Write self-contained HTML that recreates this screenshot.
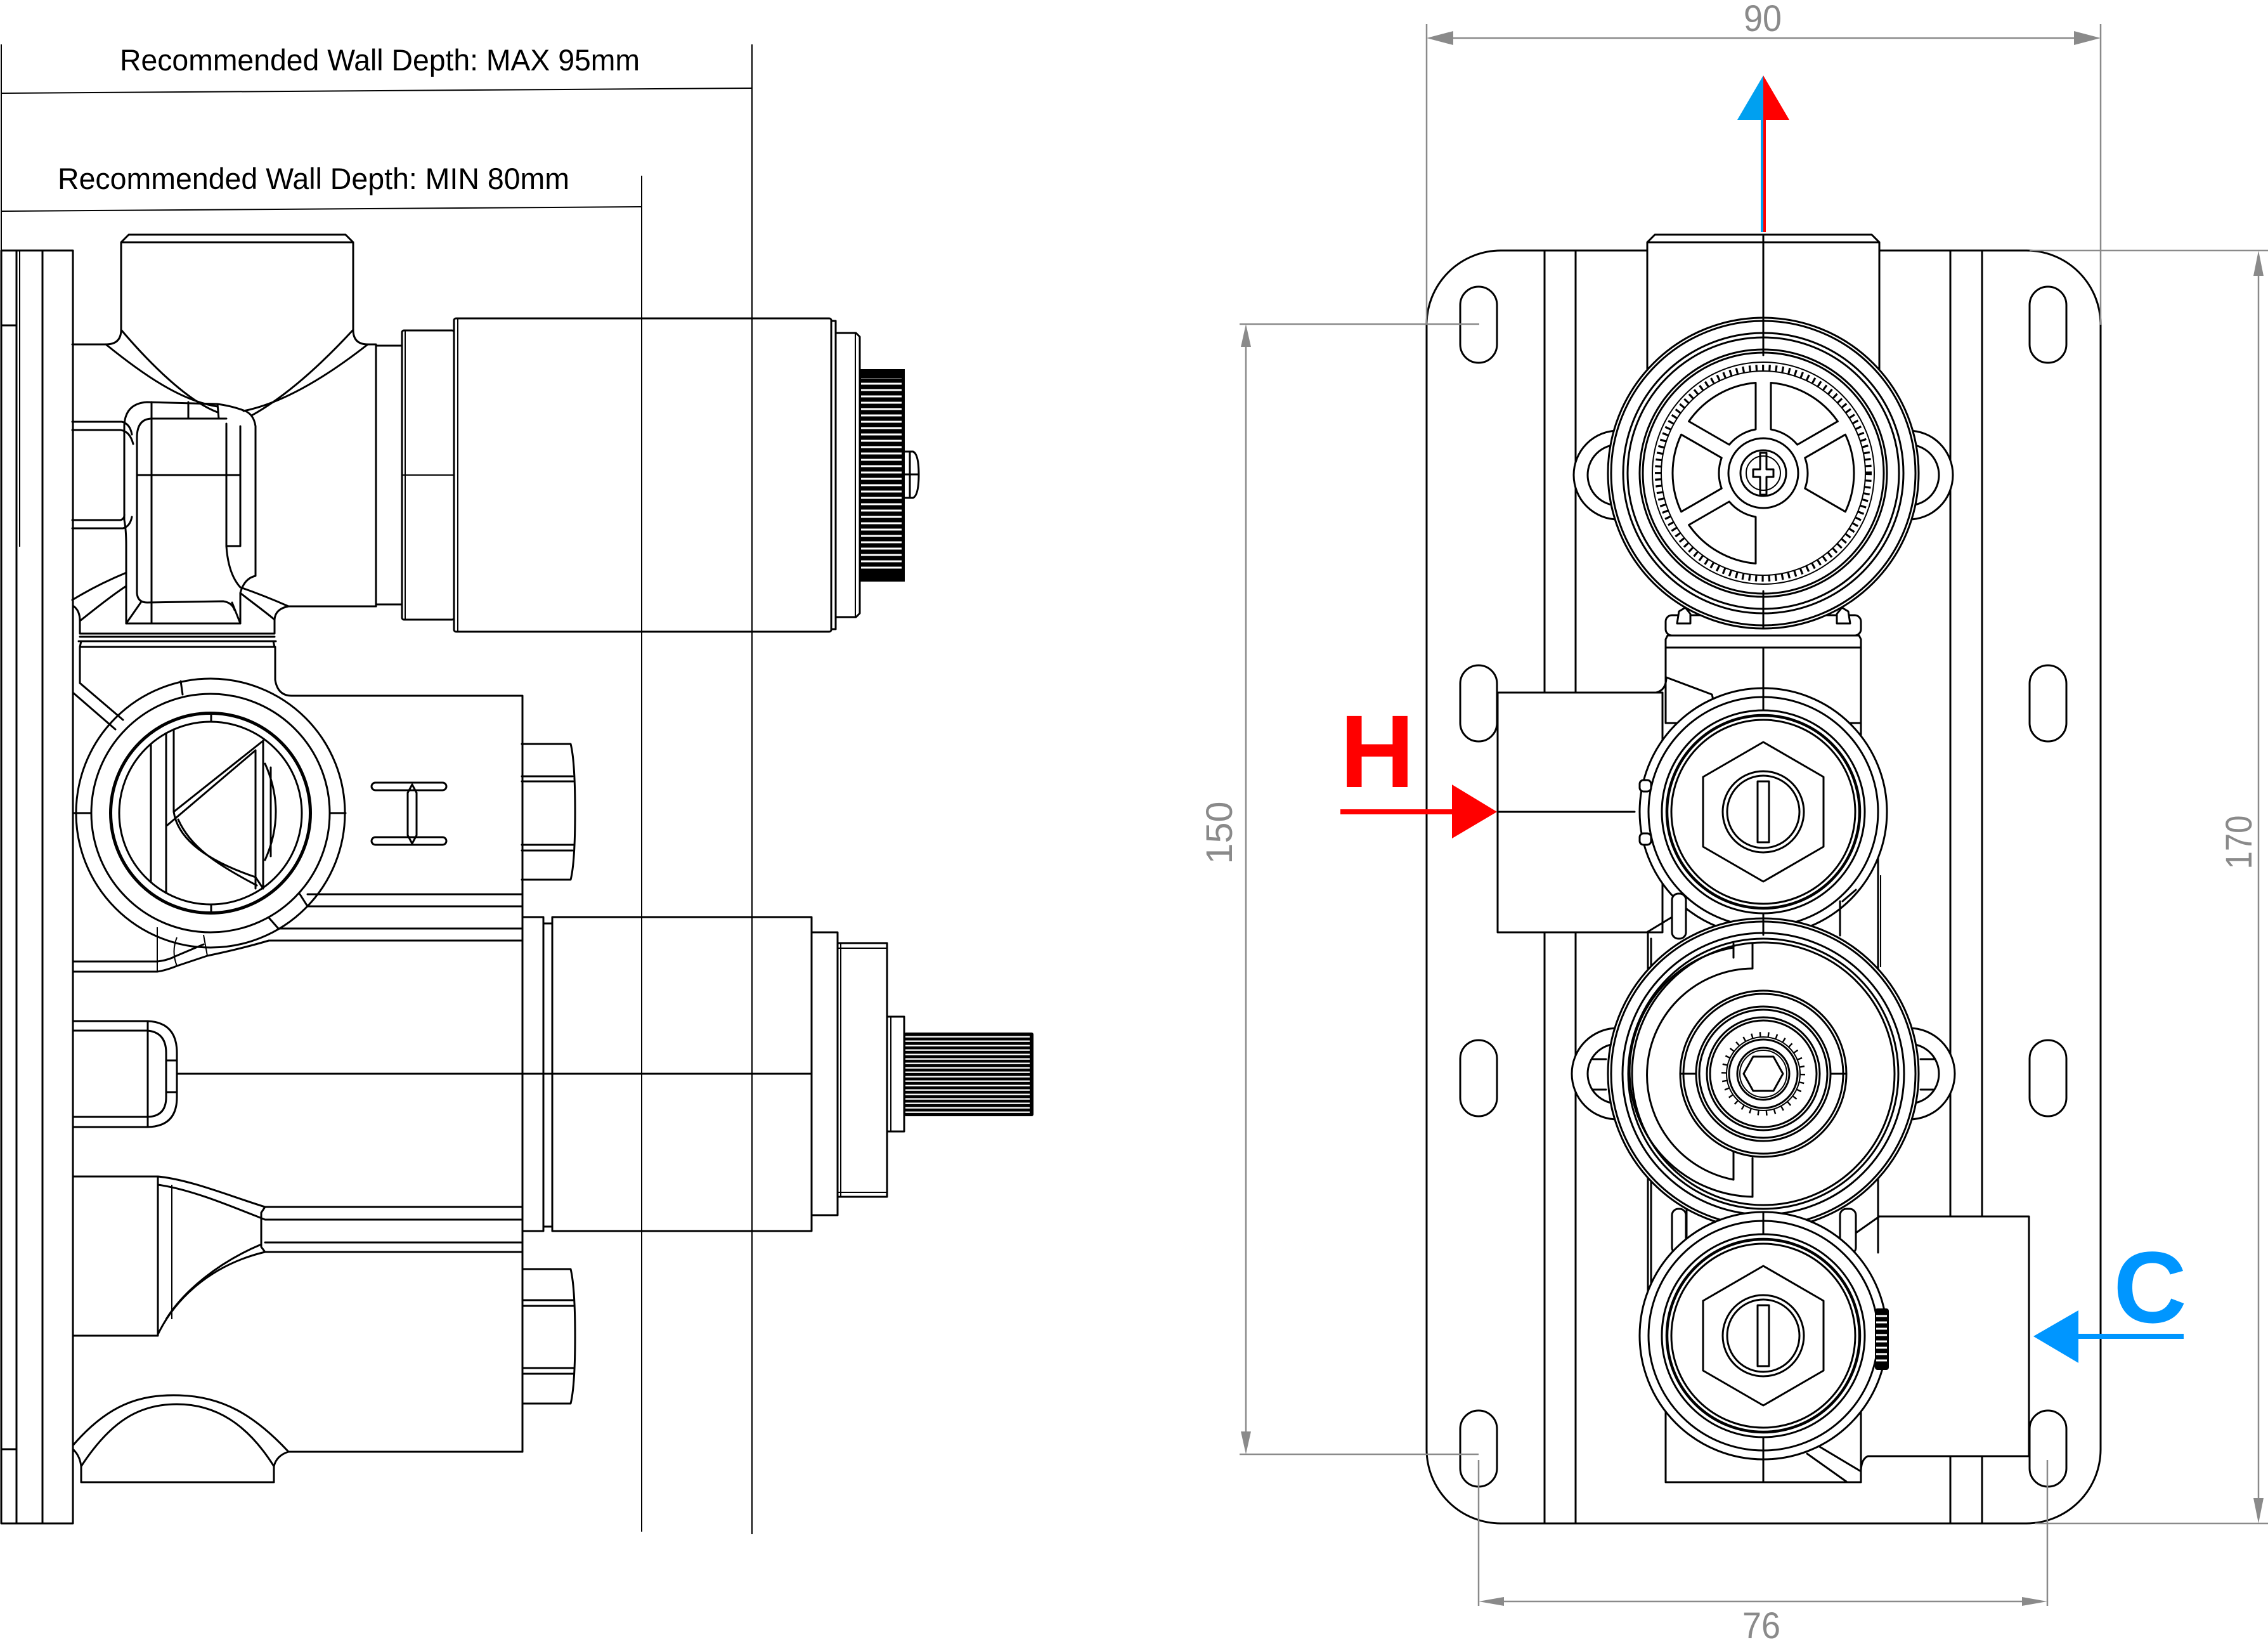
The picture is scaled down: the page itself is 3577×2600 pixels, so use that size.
<!DOCTYPE html>
<html><head><meta charset="utf-8">
<style>
html,body{margin:0;padding:0;background:#fff}
svg{display:block}
.o{fill:none;stroke:#000;stroke-width:3;stroke-linejoin:round;stroke-linecap:round}
.t{fill:none;stroke:#000;stroke-width:2}
.w{fill:#fff;stroke:#000;stroke-width:3;stroke-linejoin:round}
.g{fill:none;stroke:#8a8a8a;stroke-width:2.5}
.ga{fill:#8a8a8a;stroke:none}
.dim{font-family:"Liberation Sans",sans-serif;fill:#8a8a8a;font-size:58px}
.lbl{font-family:"Liberation Sans",sans-serif;fill:#000;font-size:47px}
.big{font-family:"Liberation Sans",sans-serif;font-weight:bold}
</style></head>
<body>
<svg width="3577" height="2600" viewBox="0 0 3577 2600" xmlns="http://www.w3.org/2000/svg">
<defs>
<pattern id="knurl" x="0" y="0" width="20" height="10" patternUnits="userSpaceOnUse"><rect width="20" height="10" fill="#000"/><rect y="3.5" width="20" height="3" fill="#fff"/></pattern>
<pattern id="spl" x="0" y="0" width="20" height="7" patternUnits="userSpaceOnUse"><rect width="20" height="7" fill="#000"/><rect y="2.5" width="20" height="2.3" fill="#fff"/></pattern>
</defs>
<rect width="3577" height="2600" fill="#fff"/>

<!-- ================= LEFT VIEW ================= -->
<g class="t">
<line x1="2" y1="147" x2="1186" y2="139"/>
<line x1="2" y1="333" x2="1012" y2="326"/>
<line x1="1186" y1="70" x2="1186" y2="2419"/>
<line x1="1012" y1="277" x2="1012" y2="2415"/>
<line x1="2" y1="70" x2="2" y2="395"/>
</g>
<text class="lbl" x="189" y="111" textLength="820" lengthAdjust="spacingAndGlyphs">Recommended Wall Depth: MAX 95mm</text>
<text class="lbl" x="91" y="298" textLength="807" lengthAdjust="spacingAndGlyphs">Recommended Wall Depth: MIN 80mm</text>

<!-- plate -->
<rect class="o" x="2" y="395" width="113" height="2007"/>
<line class="o" x1="26" y1="395" x2="26" y2="2402"/>
<line class="o" x1="67" y1="395" x2="67" y2="2402"/>
<line class="t" x1="31" y1="395" x2="31" y2="862"/>
<line class="o" x1="2" y1="513" x2="26" y2="513"/>
<line class="o" x1="2" y1="2285" x2="26" y2="2285"/>

<!-- top valve body -->
<path class="o" d="M191,520 L191,382 L203,370 L545,370 L557,382 L557,520 M191,382 L557,382"/>
<path class="o" d="M114,543 L167,543 Q191,543 191,520 M557,520 Q557,543 580,543 L593,543 L593,956"/>
<path class="o" d="M593,545 L634,545 M593,953 L634,953"/>
<rect class="o" x="634" y="521" width="82" height="456" rx="3"/>
<line class="t" x1="639" y1="521" x2="639" y2="977"/>
<line class="t" x1="634" y1="749" x2="716" y2="749"/>
<rect class="o" x="716" y="502" width="595" height="494" rx="3"/>
<line class="t" x1="722" y1="502" x2="722" y2="996"/>
<rect class="o" x="1311" y="506" width="7" height="486"/>
<path class="o" d="M1318,525 L1350,525 L1356,531 L1356,967 L1350,973 L1318,973 Z"/>
<line class="t" x1="1349" y1="525" x2="1349" y2="973"/>
<rect x="1356" y="582" width="71" height="335" fill="#000"/>
<rect x="1358" y="596" width="64" height="307" fill="url(#knurl)"/>
<path class="o" d="M1427,712 L1440,712 Q1449,716 1449,748 Q1449,781 1440,785 L1427,785 M1435,712 L1435,785 M1427,748 L1449,748"/>

<path class="o" d="M167,543 C225,590 285,632 343,641"/>
<path class="o" d="M191,520 C225,560 290,630 343,650"/>
<path class="o" d="M580,543 C520,590 450,635 384,648"/>
<path class="o" d="M557,520 C520,560 460,620 397,655"/>
<path class="o" d="M343,637 L232,634 Q198,636 196,670 L196,820 Q199,835 199,860 L199,983 L379,983 L379,935 Q385,912 403,908 L403,672 Q400,652 384,647 Q365,640 343,637"/>
<path class="o" d="M357,668 L357,861 Q360,905 379,926 M216,690 Q216,660 240,660 L357,660 M216,690 L216,935 Q217,950 232,950 L352,948 Q366,950 370,962"/>
<path class="o" d="M199,983 L222,950 M379,983 L366,950 M239,634 L239,983 M216,749 L379,749 M357,861 L379,861 M379,672 L379,861 M297,634 L297,659 M343,637 L345,660"/>
<path class="o" d="M114,665 L192,665 Q205,668 208,685 M114,678 L190,678 Q205,680 210,700"/>
<path class="o" d="M114,820 L190,820 Q197,818 196,810 M114,833 L194,833 Q205,830 208,815"/>
<path class="o" d="M114,946 C140,930 170,915 199,903"/>
<path class="o" d="M126,979 C150,960 175,940 199,924"/>
<path class="o" d="M379,926 C405,935 430,945 455,956 L593,956"/>
<path class="o" d="M379,935 C398,950 415,962 433,977"/>
<path class="o" d="M455,956 Q434,960 433,977 M115,955 Q126,962 126,979"/>
<path class="o" d="M126,979 L126,999 L433,999 L433,977"/>
<path class="o" d="M126,1004 L433,1004 M124,1011 L435,1011 M128,1011 L126,1020 M431,1011 L433,1020 M126,1020 L433,1020"/>

<!-- H port (lower body) -->
<path class="o" d="M126,1020 L126,1077 L194,1135 M115,1092 L182,1150"/>
<path class="o" d="M434,1020 L434,1072 Q438,1097 460,1097 L823,1097"/>
<line class="o" x1="824" y1="1097" x2="824" y2="2289"/>
<path class="o" d="M485,1410 L823,1410 M485,1429 L823,1429 M439,1464 L823,1464 M439,1483 L823,1483 M473,1410 L485,1429 M424,1447 L439,1464"/>
<circle class="o" cx="332" cy="1282" r="212"/>
<circle class="o" cx="332" cy="1282" r="188"/>
<circle cx="332" cy="1282" r="157.5" fill="none" stroke="#000" stroke-width="5"/>
<circle class="o" cx="332" cy="1282" r="144"/>
<path class="o" d="M115,1282 L144,1282 M521,1282 L545,1282 M285,1074 L288,1095 M333,1125 L333,1138 M333,1426 L333,1439"/>
<path class="o" d="M238,1173 L238,1391 M262,1156 L262,1408 M274,1150 L274,1280 M274,1280 L415,1168 M264,1301 L403,1183"/>
<path class="o" d="M274,1280 C280,1320 320,1355 403,1383 L415,1401 M281,1292 C300,1335 340,1362 405,1396"/>
<path class="o" d="M403,1183 L403,1401 M415,1168 L415,1401 M418,1204 Q452,1280 418,1356 M427,1210 L427,1350"/>
<path class="o" d="M115,1516 L248,1516 Q265,1514 276,1508 L321,1489"/>
<path class="o" d="M115,1532 L248,1532 Q262,1530 279,1523 L327,1507 Q380,1496 424,1483 L439,1483"/>
<path class="t" d="M248,1462 L248,1532 M279,1478 Q270,1500 279,1523 M321,1474 L327,1507"/>
<path class="o" d="M823,1173 L900,1173 Q907,1200 907,1280 Q907,1360 900,1387 L823,1387 M823,1224 L903,1224 M823,1232 L904,1232 M823,1332 L904,1332 M823,1341 L903,1341"/>
<rect class="o" x="586" y="1234" width="118" height="12" rx="6"/>
<rect class="o" x="586" y="1320" width="118" height="12" rx="6"/>
<path class="o" d="M650,1237 L657,1250 L657,1317 L650,1330 L643,1317 L643,1250 Z"/>

<!-- middle -->
<rect class="o" x="824" y="1446" width="33" height="495"/>
<rect class="o" x="857" y="1456" width="14" height="478"/>
<rect class="o" x="871" y="1446" width="409" height="495"/>
<rect class="o" x="1280" y="1470" width="41" height="446"/>
<rect class="o" x="1321" y="1487" width="78" height="400"/>
<path class="t" d="M1326,1487 L1326,1887 M1321,1495 L1399,1495 M1321,1880 L1399,1880"/>
<rect class="o" x="1399" y="1603" width="27" height="181"/>
<line class="t" x1="1405" y1="1603" x2="1405" y2="1784"/>
<rect x="1426" y="1628" width="204" height="132" rx="3" fill="#000"/>
<rect x="1428" y="1632" width="196" height="124" fill="url(#spl)"/>
<line class="o" x1="279" y1="1693" x2="1280" y2="1693"/>
<path class="o" d="M115,1610 L233,1610 Q279,1612 279,1660 L279,1730 Q279,1776 233,1777 L115,1777"/>
<path class="o" d="M115,1625 L233,1625 Q262,1628 262,1660 L262,1730 Q262,1760 233,1761 L115,1761 M233,1610 L233,1777 M262,1672 L279,1672 M262,1722 L279,1722"/>

<!-- lower -->
<path class="o" d="M115,1855 L249,1855 C300,1860 360,1885 418,1903 L824,1903"/>
<path class="o" d="M249,1868 C300,1875 360,1900 418,1923 L824,1923"/>
<path class="o" d="M418,1959 L824,1959 M418,1974 L824,1974 M418,1903 L412,1912 L412,1966 L418,1974"/>
<path class="o" d="M249,2104 C275,2050 330,1995 418,1974"/>
<path class="o" d="M262,2080 C290,2035 345,1990 412,1962"/>
<path class="o" d="M249,1855 L249,2106 M115,2106 L249,2106"/>
<line class="t" x1="271" y1="1868" x2="271" y2="2080"/>
<path class="o" d="M455,2289 L824,2289"/>
<path class="o" d="M824,2001 L900,2001 Q907,2030 907,2107 Q907,2185 900,2213 L824,2213 M824,2050 L904,2050 M824,2059 L904,2059 M824,2157 L904,2157 M824,2166 L904,2166"/>
<path class="o" d="M115,2279 C170,2215 220,2198 283,2200 C350,2202 400,2230 455,2289"/>
<path class="o" d="M128,2312 C175,2240 220,2214 279,2214 C340,2214 390,2245 432,2312"/>
<path class="o" d="M115,2285 Q126,2295 128,2312 M455,2289 Q436,2295 432,2312 M128,2312 L128,2337 L432,2337 L432,2312"/>

<!-- ================= RIGHT VIEW ================= -->
<!-- plate -->
<path class="o" d="M2367,395 L3196,395 A117,117 0 0 1 3313,512 L3313,2285 A117,117 0 0 1 3196,2402 L2367,2402 A117,117 0 0 1 2250,2285 L2250,512 A117,117 0 0 1 2367,395 Z"/>
<path class="o" d="M2436,395 L2436,2402 M2485,395 L2485,2402 M3076,395 L3076,2402 M3126,395 L3126,2402"/>
<g class="o">
<rect x="2303" y="452" width="58" height="120" rx="29"/>
<rect x="3201" y="452" width="58" height="120" rx="29"/>
<rect x="2303" y="1049" width="58" height="120" rx="29"/>
<rect x="3201" y="1049" width="58" height="120" rx="29"/>
<rect x="2303" y="1640" width="58" height="120" rx="29"/>
<rect x="3201" y="1640" width="58" height="120" rx="29"/>
<rect x="2303" y="2224" width="58" height="120" rx="29"/>
<rect x="3201" y="2224" width="58" height="120" rx="29"/>
</g>

<!-- dimensions -->
<g class="g">
<path d="M2250,38 L2250,512 M3313,38 L3313,512 M2285,60 L3278,60"/>
<path d="M1955,511 L2333,511 M1955,2293 L2332,2293 M1965,540 L1965,2264"/>
<path d="M3201,395 L3577,395 M3210,2402 L3577,2402 M3562,430 L3562,2367"/>
<path d="M2332,2302 L2332,2532 M3229,2302 L3229,2532 M2365,2525 L3196,2525"/>
</g>
<g class="ga">
<polygon points="2250,60 2292,49 2292,71"/>
<polygon points="3313,60 3271,49 3271,71"/>
<polygon points="1965,511 1957,547 1973,547"/>
<polygon points="1965,2293 1957,2257 1973,2257"/>
<polygon points="3562,395 3554,435 3570,435"/>
<polygon points="3562,2402 3554,2362 3570,2362"/>
<polygon points="2332,2525 2372,2518 2372,2532"/>
<polygon points="3229,2525 3189,2518 3189,2532"/>
</g>
<text class="dim" x="2780" y="49" text-anchor="middle" textLength="60" lengthAdjust="spacingAndGlyphs">90</text>
<text class="dim" x="2778" y="2583" text-anchor="middle" textLength="60" lengthAdjust="spacingAndGlyphs">76</text>
<text class="dim" transform="translate(1943,1313) rotate(-90)" text-anchor="middle" textLength="99" lengthAdjust="spacingAndGlyphs">150</text>
<text class="dim" transform="translate(3551,1328) rotate(-90)" text-anchor="middle" textLength="85" lengthAdjust="spacingAndGlyphs">170</text>

<!-- top pipe + centreline -->
<path class="w" d="M2598,640 L2598,382 L2610,370 L2952,370 L2964,382 L2964,640 Z"/>
<line class="o" x1="2598" y1="382" x2="2964" y2="382"/>
<line class="o" x1="2781" y1="370" x2="2781" y2="2337"/>

<!-- collar below top valve -->
<path class="w" d="M2627,1021 L2627,1140 L2935,1140 L2935,1021 Z"/>
<line class="o" x1="2781" y1="1021" x2="2781" y2="1140"/>
<path class="w" d="M2630,1002 L2627,1008 L2627,1021 L2935,1021 L2935,1008 L2932,1002 Z"/>
<rect class="w" x="2627" y="970" width="308" height="32" rx="10"/>
<path class="w" d="M2645,983 L2648,964 L2658,958 L2666,968 L2666,983 Z"/>
<path class="w" d="M2897,983 L2897,968 L2905,958 L2915,964 L2918,983 Z"/>

<!-- top valve lugs + valve -->
<circle class="w" cx="2552" cy="749" r="70"/>
<circle class="o" cx="2552" cy="749" r="48"/>
<circle class="w" cx="3010" cy="749" r="70"/>
<circle class="o" cx="3010" cy="749" r="48"/>
<circle class="w" cx="2781" cy="746" r="245"/>
<circle class="o" cx="2781" cy="746" r="240"/>
<circle class="o" cx="2781" cy="746" r="221"/>
<circle class="o" cx="2781" cy="746" r="214"/>
<circle class="o" cx="2781" cy="746" r="195"/>
<circle class="o" cx="2781" cy="746" r="190"/>
<circle class="t" cx="2781" cy="746" r="175"/>
<circle cx="2781" cy="746" r="166" fill="none" stroke="#000" stroke-width="10" stroke-dasharray="3.2 7.2"/>
<circle class="t" cx="2781" cy="746" r="161"/>
<path class="o" d="M2781,501 L2781,560 M2781,932 L2781,991"/>
<g class="o">
<path d="M2793,677.04 L2793,603.5 A143,143 0 0 1 2898.41,664.36 L2834.72,701.13 A70,70 0 0 0 2793,677.04 Z"/>
<path d="M2846.72,721.91 L2910.41,685.14 A143,143 0 0 1 2910.41,806.86 L2846.72,770.09 A70,70 0 0 0 2846.72,721.91 Z"/>
<path d="M2769,814.96 L2769,888.5 A143,143 0 0 1 2663.59,827.64 L2727.28,790.87 A70,70 0 0 0 2769,814.96 Z"/>
<path d="M2715.28,770.09 L2651.59,806.86 A143,143 0 0 1 2651.59,685.14 L2715.28,721.91 A70,70 0 0 0 2715.28,770.09 Z"/>
<path d="M2727.28,701.13 L2663.59,664.36 A143,143 0 0 1 2769,603.5 L2769,677.04 A70,70 0 0 0 2727.28,701.13 Z"/>
</g>
<circle class="w" cx="2781" cy="746" r="55"/>
<circle class="o" cx="2781" cy="746" r="36"/>
<circle class="t" cx="2781" cy="746" r="27"/>
<path class="o" d="M2776,714 L2786,714 L2786,740 L2797,740 L2797,752 L2786,752 L2786,780 L2776,780 L2776,752 L2765,752 L2765,740 L2776,740 Z"/>

<!-- H block -->
<rect class="w" x="2362" y="1092" width="260" height="378"/>
<line class="o" x1="2362" y1="1280" x2="2578" y2="1280"/>
<path class="o" d="M2612,1092 Q2628,1088 2628,1068 M2628,1068 L2700,1095 L2705,1115"/>
<path class="o" d="M2935,1140 L2935,1172 Q2962,1220 2962,1280 L2962,1918"/>
<line class="t" x1="2966" y1="1380" x2="2966" y2="1525"/>

<!-- body lines behind lugs/valves -->
<path class="o" d="M2599,1469 L2599,2150 M2604,1480 L2604,2140 M2660,1907 L2660,1963"/>
<path class="w" d="M2627,2200 L2627,2337 L2935,2337 L2935,2200 Z"/>
<line class="o" x1="2781" y1="2200" x2="2781" y2="2337"/>
<path class="o" d="M2858,2274 L2935,2320 M2850,2292 L2912,2336"/>

<!-- H valve -->
<circle class="w" cx="2781" cy="1280" r="195"/>
<circle class="o" cx="2781" cy="1280" r="181"/>
<circle class="o" cx="2781" cy="1280" r="160"/>
<circle cx="2781" cy="1280" r="152" fill="none" stroke="#000" stroke-width="4.5"/>
<circle class="o" cx="2781" cy="1280" r="145"/>
<polygon class="o" points="2781,1170 2876,1225 2876,1335 2781,1390 2686,1335 2686,1225"/>
<circle class="o" cx="2781" cy="1280" r="64"/>
<circle class="o" cx="2781" cy="1280" r="57"/>
<rect class="o" x="2772" y="1232" width="18" height="96"/>
<path class="o" d="M2781,1085 L2781,1120 M2781,1440 L2781,1475"/>
<rect class="w" x="2586" y="1230" width="18" height="18" rx="6"/>
<rect class="w" x="2586" y="1314" width="18" height="18" rx="6"/>

<!-- clips between valves -->
<path class="o" d="M2599,1469 L2637,1446"/>
<rect class="w" x="2637" y="1409" width="22" height="71" rx="10"/>
<path class="o" d="M2902,1421 L2902,1475 M2906,1421 L2927,1403"/>
<rect class="w" x="2637" y="1906" width="22" height="71" rx="10"/>
<rect class="w" x="2902" y="1906" width="25" height="71" rx="10"/>
<path class="o" d="M2927,1944 L2964,1918"/>

<!-- diverter -->
<circle class="w" cx="2551" cy="1693" r="72"/>
<circle class="o" cx="2551" cy="1693" r="47"/>
<path class="o" d="M2512,1670 L2533,1670 M2512,1718 L2533,1718"/>
<circle class="w" cx="3011" cy="1693" r="72"/>
<circle class="o" cx="3011" cy="1693" r="47"/>
<path class="o" d="M3029,1670 L3050,1670 M3029,1718 L3050,1718"/>
<circle class="w" cx="2781" cy="1693" r="245"/>
<circle class="o" cx="2781" cy="1693" r="240"/>
<circle class="o" cx="2781" cy="1693" r="222"/>
<circle class="o" cx="2781" cy="1693" r="213"/>
<circle class="o" cx="2781" cy="1693" r="207"/>
<path class="o" d="M2734,1494 A198,198 0 0 0 2764,1887"/>
<path class="o" d="M2764,1527 A168,168 0 0 0 2734,1860"/>
<path class="o" d="M2734,1488 L2734,1510 M2764,1487 L2764,1527 M2734,1816 L2734,1860 M2764,1826 L2764,1887"/>
<path class="o" d="M2781,1448 L2781,1474 M2781,1912 L2781,1938"/>
<circle class="o" cx="2781" cy="1693" r="131"/>
<circle class="o" cx="2781" cy="1693" r="126"/>
<circle class="o" cx="2781" cy="1693" r="106"/>
<circle class="o" cx="2781" cy="1693" r="101"/>
<circle class="o" cx="2781" cy="1693" r="89"/>
<circle class="o" cx="2781" cy="1693" r="84"/>
<path class="o" d="M2650,1693 L2675,1693 M2887,1693 L2912,1693"/>
<circle cx="2781" cy="1693" r="62" fill="none" stroke="#000" stroke-width="8" stroke-dasharray="2.4 10.6"/>
<circle class="t" cx="2781" cy="1693" r="58"/>
<circle class="o" cx="2781" cy="1693" r="54"/>
<circle class="o" cx="2781" cy="1693" r="41"/>
<circle class="t" cx="2781" cy="1693" r="37"/>
<polygon class="o" points="2750,1693 2765,1666 2797,1666 2812,1693 2797,1720 2765,1720"/>

<!-- C block -->
<path d="M2964,1918 L3200,1918 L3200,2296 L2980,2296 L2980,1918 Z" style="fill:#fff;stroke:none"/>
<path class="o" d="M2964,1918 L3200,1918 L3200,2296 L2946,2296 Q2936,2300 2935,2318 M2962,1918 L2962,1975"/>

<!-- C valve -->
<circle class="w" cx="2781" cy="2106" r="195"/>
<circle class="o" cx="2781" cy="2106" r="181"/>
<circle class="o" cx="2781" cy="2106" r="160"/>
<circle cx="2781" cy="2106" r="152" fill="none" stroke="#000" stroke-width="4.5"/>
<circle class="o" cx="2781" cy="2106" r="145"/>
<polygon class="o" points="2781,1996 2876,2051 2876,2161 2781,2216 2686,2161 2686,2051"/>
<circle class="o" cx="2781" cy="2106" r="64"/>
<circle class="o" cx="2781" cy="2106" r="57"/>
<rect class="o" x="2772" y="2058" width="18" height="96"/>
<path class="o" d="M2781,1911 L2781,1946 M2781,2266 L2781,2301"/>
<rect x="2957" y="2063" width="22" height="97" rx="4" fill="#000"/>
<rect x="2959" y="2070" width="17" height="83" fill="url(#knurl)"/>

<!-- flow arrows -->
<polygon points="2781,119 2740,189 2781,189" fill="#00a0f0"/>
<polygon points="2781,119 2822,189 2781,189" fill="#ff0000"/>
<rect x="2777" y="189" width="4" height="177" fill="#00a0f0"/>
<rect x="2781" y="189" width="4" height="177" fill="#ff0000"/>

<rect x="2114" y="1276" width="178" height="8" fill="#ff0000"/>
<polygon points="2290,1237 2290,1322 2361,1280" fill="#ff0000"/>
<text class="big" x="2172" y="1241" font-size="163" fill="#ff0000" text-anchor="middle">H</text>

<rect x="3276" y="2103" width="168" height="8" fill="#0096ff"/>
<polygon points="3207,2107 3278,2066 3278,2149" fill="#0096ff"/>
<text class="big" x="3391" y="2085" font-size="160" fill="#0096ff" text-anchor="middle">C</text>
</svg>
</body></html>
